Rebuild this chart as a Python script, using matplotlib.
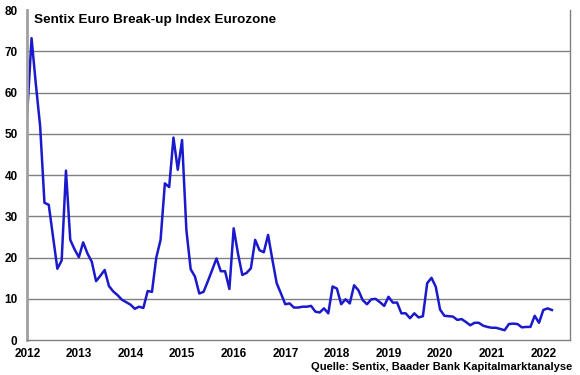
import matplotlib
matplotlib.use("Agg")
import matplotlib.pyplot as plt
import pandas as pd

plt.rcParams['font.family'] = ['Liberation Sans', 'DejaVu Sans']

# Sentix Euro Break-up Index, monatlich Jan 2012 - Mär 2022
v2012 = [55.2, 73.2, 62.0, 51.8, 33.3, 32.8, 25.0, 17.3, 19.3, 41.1, 24.3, 22.0]
v2013 = [20.1, 23.7, 21.0, 19.0, 14.3, 15.6, 17.0, 13.1, 11.8, 10.9, 9.8, 9.2]
v2014 = [8.6, 7.6, 8.1, 7.8, 11.9, 11.7, 20.0, 24.3, 38.0, 37.1, 49.1, 41.3]
v2015 = [48.5, 26.7, 17.2, 15.4, 11.3, 11.7, 14.3, 17.0, 19.8, 16.7, 16.7, 12.4]
v2016 = [27.1, 21.0, 15.8, 16.3, 17.4, 24.3, 21.8, 21.3, 25.5, 19.5, 13.8, 11.3]
v2017 = [8.7, 8.9, 7.9, 7.9, 8.1, 8.1, 8.3, 6.9, 6.7, 7.7, 6.5, 13.0]
v2018 = [12.5, 8.7, 9.9, 8.9, 13.3, 12.1, 9.7, 8.7, 9.9, 10.0, 9.2, 8.3]
v2019 = [10.5, 9.1, 9.1, 6.5, 6.5, 5.3, 6.5, 5.5, 5.8, 13.8, 15.1, 12.9]
v2020 = [7.4, 5.9, 5.8, 5.7, 4.9, 5.1, 4.4, 3.6, 4.2, 4.2, 3.5, 3.2]
v2021 = [3.0, 3.0, 2.7, 2.4, 3.9, 4.0, 3.9, 3.1, 3.2, 3.2, 5.9, 4.2]
v2022 = [7.3, 7.7, 7.3]

values = v2012 + v2013 + v2014 + v2015 + v2016 + v2017 + v2018 + v2019 + v2020 + v2021 + v2022
dates = pd.date_range("2012-01-01", periods=len(values), freq="MS")
x = dates.year + (dates.month - 1) / 12.0

years = list(range(2012, 2023))
yticks = [0, 10, 20, 30, 40, 50, 60, 70, 80]

fig = plt.figure(figsize=(5.8, 3.75), dpi=100)
ax = fig.add_axes([0.047, 0.093, 0.936, 0.880])

ax.plot(x, values, color='#1a1acc', linewidth=1.8)

ax.set_xlim(2012, 2022.52)
ax.set_ylim(0, 80)
ax.set_xticks(years)
ax.set_xticklabels([str(y) for y in years])
ax.set_yticks(yticks)
ax.set_yticklabels([str(t) for t in yticks])

for t in yticks[1:-1]:
    ax.axhline(t, color='#808080', linewidth=1.0, zorder=0)

for lab in ax.get_xticklabels() + ax.get_yticklabels():
    lab.set_fontweight('bold')
    lab.set_fontsize(8.5)
ax.tick_params(axis='y', length=0, pad=7)
ax.tick_params(axis='x', length=0, pad=6)

ax.spines['top'].set_visible(False)
ax.spines['left'].set_color('#a0a0a0')
ax.spines['left'].set_linewidth(2)
ax.spines['bottom'].set_color('#808080')
ax.spines['bottom'].set_linewidth(1)
ax.spines['right'].set_color('#808080')
ax.spines['right'].set_linewidth(1)

ax.text(0.012, 0.988, "Sentix Euro Break-up Index Eurozone", transform=ax.transAxes,
        fontsize=9.7, fontweight='bold', va='top', ha='left')
fig.text(0.987, 0.008, "Quelle: Sentix, Baader Bank Kapitalmarktanalyse",
         fontsize=8, fontweight='bold', ha='right', va='bottom')

fig.savefig("out.png", dpi=100)
